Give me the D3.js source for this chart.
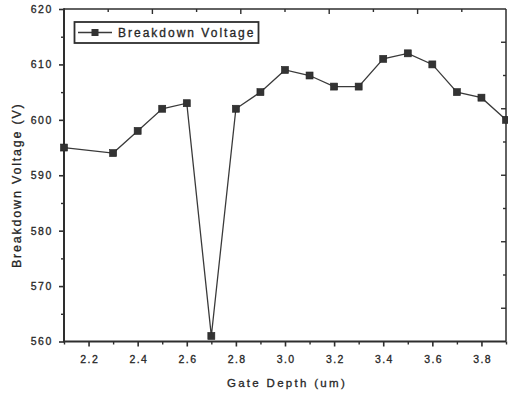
<!DOCTYPE html>
<html>
<head>
<meta charset="utf-8">
<script src="https://cdn.jsdelivr.net/npm/d3@7"></script>
<style>
  html, body { margin: 0; padding: 0; background: #ffffff; }
  svg { display: block; }
  text { font-family: "Liberation Sans", Arial, sans-serif; fill: #262626; stroke: #262626; stroke-width: 0.3px; }
</style>
</head>
<body>
<svg id="chart" width="508" height="395"></svg>
<script>
// Gate depth (um) and measured breakdown voltage (V)
const gateDepth = [2.1, 2.3, 2.4, 2.5, 2.6, 2.7, 2.8, 2.9, 3.0, 3.1, 3.2, 3.3, 3.4, 3.5, 3.6, 3.7, 3.8, 3.9];
const breakdownVoltage = [595, 594, 598, 602, 603, 561, 602, 605, 609, 608, 606, 606, 611, 612, 610, 605, 604, 600];
const seriesName = "Breakdown Voltage";

const xTickLabels = [2.2, 2.4, 2.6, 2.8, 3.0, 3.2, 3.4, 3.6, 3.8];
const xMinorTicks = [2.1, 2.3, 2.5, 2.7, 2.9, 3.1, 3.3, 3.5, 3.7, 3.9];
const yTickLabels = [560, 570, 580, 590, 600, 610, 620];
const yMinorTicks = [565, 575, 585, 595, 605, 615];

const xTitle = "Gate Depth (um)";
const yTitle = "Breakdown Voltage (V)";

const svg = d3.select("#chart");
const plot = { left: 64, right: 506, top: 9, bottom: 341.5 };
const ink = "#2e2e2e";

const x = d3.scaleLinear().domain([2.1, 3.9]).range([plot.left, plot.right]);
const y = d3.scaleLinear().domain([560, 620]).range([plot.bottom, plot.top]);

// Frame ticks on the top and right edges: ten divisions, alternating long/short
const frameDiv = d3.range(0, 11);
const xFrame = d3.scaleLinear().domain([0, 10]).range([plot.left, plot.right]);
const yFrame = d3.scaleLinear().domain([0, 10]).range([plot.top, plot.bottom]);

// Bottom axis (outward ticks)
const xAxis = svg.append("g")
  .attr("transform", `translate(0,${plot.bottom})`)
  .call(d3.axisBottom(x).tickValues(xTickLabels).tickSize(5).tickSizeOuter(0)
        .tickFormat(d3.format(".1f")));
xAxis.select(".domain").remove();
xAxis.selectAll(".tick line").attr("stroke", ink).attr("stroke-width", 1.6);
xAxis.selectAll(".tick text").attr("dy", "0.95em").attr("y", 12)
  .style("font-size", "10.5px").style("letter-spacing", "1.4px").attr("dx", "0.7px");
svg.append("g").attr("transform", `translate(0,${plot.bottom})`)
  .call(d3.axisBottom(x).tickValues(xMinorTicks).tickSize(3).tickSizeOuter(0).tickFormat(""))
  .call(g => g.select(".domain").remove())
  .call(g => g.selectAll(".tick line").attr("stroke", ink).attr("stroke-width", 1.4));

// Left axis (outward ticks)
const yAxis = svg.append("g")
  .attr("transform", `translate(${plot.left},0)`)
  .call(d3.axisLeft(y).tickValues(yTickLabels).tickSize(5).tickSizeOuter(0));
yAxis.select(".domain").remove();
yAxis.selectAll(".tick line").attr("stroke", ink).attr("stroke-width", 1.6);
yAxis.selectAll(".tick text").attr("x", -11)
  .style("font-size", "10.5px").style("letter-spacing", "1.6px");
svg.append("g").attr("transform", `translate(${plot.left},0)`)
  .call(d3.axisLeft(y).tickValues(yMinorTicks).tickSize(3).tickSizeOuter(0).tickFormat(""))
  .call(g => g.select(".domain").remove())
  .call(g => g.selectAll(".tick line").attr("stroke", ink).attr("stroke-width", 1.4));

// Top frame ticks (inward)
svg.append("g").selectAll("line").data(frameDiv.slice(1, 10)).join("line")
  .attr("x1", d => xFrame(d)).attr("x2", d => xFrame(d))
  .attr("y1", plot.top).attr("y2", d => plot.top + (d % 2 === 0 ? 5 : 3))
  .attr("stroke", ink).attr("stroke-width", 1.4);

// Right frame ticks (inward)
svg.append("g").selectAll("line").data(frameDiv.slice(1, 10)).join("line")
  .attr("y1", d => yFrame(d)).attr("y2", d => yFrame(d))
  .attr("x1", plot.right).attr("x2", d => plot.right - (d % 2 === 1 ? 5 : 3))
  .attr("stroke", ink).attr("stroke-width", 1.4);

// Plot frame
svg.append("line").attr("x1", plot.left).attr("x2", plot.right)
  .attr("y1", plot.top).attr("y2", plot.top).attr("stroke", ink).attr("stroke-width", 1.5);
svg.append("line").attr("x1", plot.right).attr("x2", plot.right)
  .attr("y1", plot.top).attr("y2", plot.bottom).attr("stroke", ink).attr("stroke-width", 1.5);
svg.append("line").attr("x1", plot.left).attr("x2", plot.left)
  .attr("y1", plot.top - 0.8).attr("y2", plot.bottom + 0.8).attr("stroke", ink).attr("stroke-width", 2);
svg.append("line").attr("x1", plot.left).attr("x2", plot.right)
  .attr("y1", plot.bottom).attr("y2", plot.bottom).attr("stroke", ink).attr("stroke-width", 2);

// Series line and square markers
const points = gateDepth.map((g, i) => ({ g, v: breakdownVoltage[i] }));
const line = d3.line().x(d => x(d.g)).y(d => y(d.v));
svg.append("path").datum(points)
  .attr("d", line).attr("fill", "none")
  .attr("stroke", "#3a3a3a").attr("stroke-width", 1.3);
const ms = 7;
svg.append("g").selectAll("rect").data(points).join("rect")
  .attr("x", d => x(d.g) - ms / 2).attr("y", d => y(d.v) - ms / 2)
  .attr("width", ms).attr("height", ms)
  .attr("fill", "#333").attr("stroke", "#222").attr("stroke-width", 0.6);

// Legend
const legend = svg.append("g");
legend.append("rect").attr("x", 74.5).attr("y", 22).attr("width", 184).attr("height", 21)
  .attr("fill", "#fff").attr("stroke", ink).attr("stroke-width", 1.8);
legend.append("line").attr("x1", 78).attr("x2", 112).attr("y1", 32.5).attr("y2", 32.5)
  .attr("stroke", "#3a3a3a").attr("stroke-width", 1.3);
legend.append("rect").attr("x", 95 - ms / 2).attr("y", 32.5 - ms / 2)
  .attr("width", ms).attr("height", ms).attr("fill", "#333");
legend.append("text").attr("x", 118).attr("y", 37)
  .style("font-size", "12px").style("letter-spacing", "2px").text(seriesName);

// Axis titles
svg.append("text").attr("x", (plot.left + plot.right) / 2 + 2).attr("y", 387)
  .attr("text-anchor", "middle")
  .style("font-size", "11.5px").style("letter-spacing", "2.3px").text(xTitle);
svg.append("text")
  .attr("transform", `translate(21,${(plot.top + plot.bottom) / 2 + 10}) rotate(-90)`)
  .attr("text-anchor", "middle")
  .style("font-size", "12.5px").style("letter-spacing", "1.8px").text(yTitle);
</script>
</body>
</html>
